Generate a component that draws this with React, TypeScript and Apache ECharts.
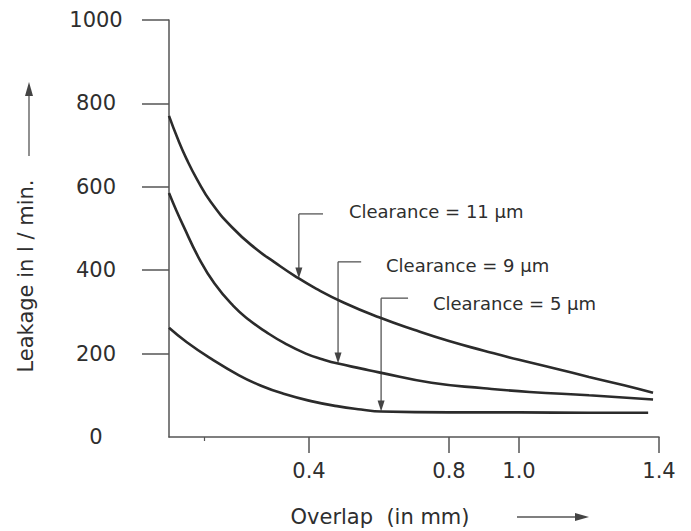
import React, { useEffect, useRef } from 'react';
import * as echarts from 'echarts';

// ---- data ----
const overlap11 = [0, 0.025, 0.05, 0.08, 0.12, 0.18, 0.25, 0.3, 0.36, 0.42, 0.5, 0.6, 0.7, 0.8, 0.9, 1.0, 1.1, 1.2, 1.3, 1.383];
const leakage11 = [770, 715, 667, 618, 563, 503, 450, 420, 386, 356, 322, 287, 257, 230, 207, 185, 165, 144, 124, 106];

const overlap9 = [0, 0.02, 0.04, 0.086, 0.13, 0.183, 0.23, 0.277, 0.33, 0.391, 0.44, 0.483, 0.55, 0.6, 0.75, 0.9, 1.03, 1.2, 1.383];
const leakage9 = [585, 545, 508, 428, 368, 315, 280, 252, 225, 200, 186, 176, 164, 155, 130, 117, 108, 100, 90];

const overlap5 = [0, 0.05, 0.12, 0.2, 0.263, 0.33, 0.406, 0.48, 0.549, 0.606, 0.8, 1.0, 1.2, 1.369];
const leakage5 = [262, 228, 188, 148, 123, 103, 86, 74, 66, 61, 59, 59, 58, 58];

const xTickValues = [0.4, 0.8, 1.0, 1.4];
const xMinorTickValues = [0.1];
const yTickValues = [200, 400, 600, 800, 1000];

// annotations: label, arrow tip, elbow height, end of horizontal leader, label anchor
const annotationLabels = ['Clearance = 11 μm', 'Clearance = 9 μm', 'Clearance = 5 μm'];
const arrowTipOverlap = [0.371, 0.483, 0.606];
const arrowTipLeakage = [380, 176, 61];
const elbowLeakage = [535, 420, 333];
const elbowEndOverlap = [0.44, 0.549, 0.683];
const labelOverlap = [0.514, 0.62, 0.754];
const labelLeakage = [540, 412, 321];

const pairs = (xs: number[], ys: number[]) => xs.map((x, i) => [x, ys[i]]);

export default function App() {
  const ref = useRef<HTMLDivElement>(null);
  useEffect(() => {
    const chart = echarts.init(ref.current!, null, { renderer: 'svg' });
    const font = 'DejaVu Sans';
    const axisColor = '#555';
    const textColor = '#2e2e2e';
    const curveStyle = { color: '#2b2b2b', width: 2.6 };
    const mkSeries = (name: string, xs: number[], ys: number[]) => ({
      name,
      type: 'line',
      data: pairs(xs, ys),
      smooth: 0.5,
      showSymbol: false,
      symbol: 'none',
      lineStyle: curveStyle,
      xAxisIndex: 0,
      yAxisIndex: 0,
    });
    chart.setOption({
      animation: false,
      backgroundColor: '#ffffff',
      grid: { left: 169, top: 20, width: 490, height: 417, containLabel: false },
      xAxis: [
        {
          type: 'value',
          min: 0,
          max: 1.4,
          axisLine: { show: true, lineStyle: { color: axisColor, width: 1.5 } },
          axisTick: { show: true, customValues: xTickValues, length: 16, lineStyle: { color: axisColor, width: 1.5 } },
          axisLabel: {
            customValues: xTickValues,
            formatter: (v: number) => v.toFixed(1),
            margin: 23,
            fontSize: 21,
            fontFamily: font,
            color: textColor,
          },
          splitLine: { show: false },
        },
        {
          type: 'value',
          min: 0,
          max: 1.4,
          position: 'bottom',
          axisLine: { show: false },
          axisTick: { show: true, customValues: xMinorTickValues, length: 4, lineStyle: { color: axisColor, width: 1.2 } },
          axisLabel: { show: false },
          splitLine: { show: false },
        },
      ],
      yAxis: {
        type: 'value',
        min: 0,
        max: 1000,
        interval: 200,
        axisLine: { show: true, lineStyle: { color: axisColor, width: 1.5 } },
        axisTick: { show: true, customValues: yTickValues, length: 27, lineStyle: { color: axisColor, width: 1.5 } },
        axisLabel: {
          align: 'center',
          margin: 73,
          fontSize: 21,
          fontFamily: font,
          color: textColor,
          formatter: (v: number) => String(v),
          padding: [9, 0, 0, 0],
        },
        splitLine: { show: false },
      },
      series: [
        mkSeries('Clearance = 11 μm', overlap11, leakage11),
        mkSeries('Clearance = 9 μm', overlap9, leakage9),
        mkSeries('Clearance = 5 μm', overlap5, leakage5),
      ],
    });

    const px = (x: number, y: number) => chart.convertToPixel({ gridIndex: 0 }, [x, y]) as number[];
    const leaderColor = '#555';
    const graphics: any[] = [];
    annotationLabels.forEach((label, i) => {
      const tip = px(arrowTipOverlap[i], arrowTipLeakage[i]);
      const elbow = px(arrowTipOverlap[i], elbowLeakage[i]);
      const end = px(elbowEndOverlap[i], elbowLeakage[i]);
      const lab = px(labelOverlap[i], labelLeakage[i]);
      graphics.push(
        { type: 'line', shape: { x1: elbow[0], y1: elbow[1], x2: end[0], y2: end[1] }, style: { stroke: leaderColor, lineWidth: 1.3 } },
        { type: 'line', shape: { x1: elbow[0], y1: elbow[1], x2: tip[0], y2: tip[1] - 8 }, style: { stroke: leaderColor, lineWidth: 1.3 } },
        {
          type: 'polygon',
          shape: { points: [[tip[0] - 3.5, tip[1] - 11], [tip[0] + 3.5, tip[1] - 11], [tip[0], tip[1]]] },
          style: { fill: '#444' },
        },
        {
          type: 'text',
          x: lab[0],
          y: lab[1],
          style: { text: label, fontSize: 18, fontFamily: font, fill: textColor, align: 'left', verticalAlign: 'middle' },
        }
      );
    });
    // axis titles and arrows
    graphics.push(
      {
        type: 'text',
        x: 26,
        y: 276,
        rotation: Math.PI / 2,
        style: { text: 'Leakage in l / min.', fontSize: 21, fontFamily: font, fill: textColor, align: 'center', verticalAlign: 'middle' },
      },
      { type: 'line', shape: { x1: 29, y1: 156, x2: 29, y2: 94 }, style: { stroke: '#555', lineWidth: 1.3 } },
      { type: 'polygon', shape: { points: [[25, 96], [33, 96], [29, 82]] }, style: { fill: '#444' } },
      {
        type: 'text',
        x: 380,
        y: 517,
        style: { text: 'Overlap  (in mm)', fontSize: 21, fontFamily: font, fill: textColor, align: 'center', verticalAlign: 'middle' },
      },
      { type: 'line', shape: { x1: 517, y1: 517, x2: 578, y2: 517 }, style: { stroke: '#555', lineWidth: 1.3 } },
      { type: 'polygon', shape: { points: [[575, 513], [575, 521], [589, 517]] }, style: { fill: '#444' } }
    );
    chart.setOption({ graphic: graphics });

    return () => chart.dispose();
  }, []);
  return <div ref={ref} style={{ position: 'absolute', left: 0, top: 0, width: 691, height: 531 }} />;
}
